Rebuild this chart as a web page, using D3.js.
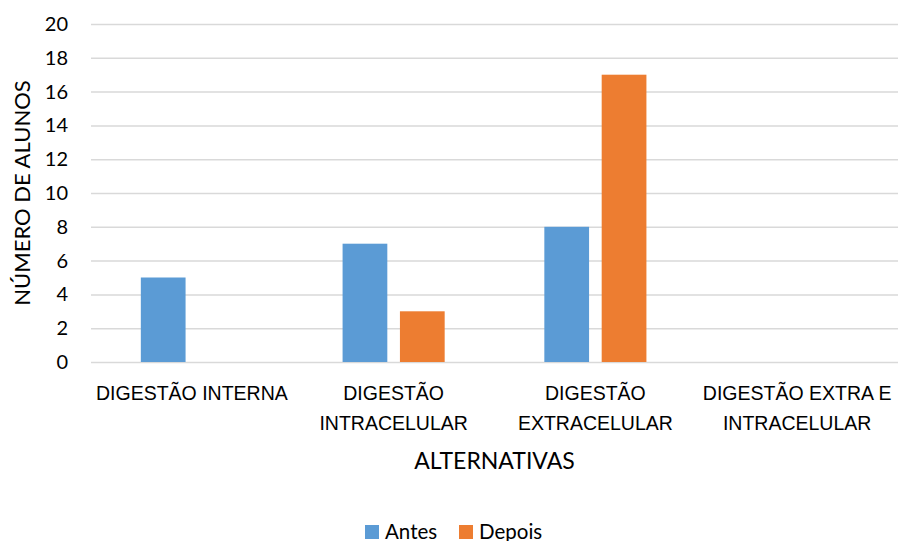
<!DOCTYPE html>
<html>
<head>
<meta charset="utf-8">
<script src="https://cdn.jsdelivr.net/npm/d3@7"></script>
<style>
  html, body { margin: 0; padding: 0; background: #fff; }
  svg { display: block; font-family: Lato, "Open Sans", sans-serif; }
</style>
</head>
<body>
<svg id="chart" width="899" height="541"></svg>
<script>
// Categories (axis labels are wrapped on "\n")
const categories = [
  "DIGESTÃO INTERNA",
  "DIGESTÃO\nINTRACELULAR",
  "DIGESTÃO\nEXTRACELULAR",
  "DIGESTÃO EXTRA E\nINTRACELULAR"
];
const seriesNames = ["Antes", "Depois"];
const antes = [5, 7, 8, 0];
const depois = [0, 3, 17, 0];
const yTicks = [0, 2, 4, 6, 8, 10, 12, 14, 16, 18, 20];
const colors = ["#5B9BD5", "#ED7D31"];

const svg = d3.select("#chart");
const margin = { left: 91, right: 1, top: 24, bottom: 179 };
const W = 899, H = 541;
const plotW = W - margin.left - margin.right;
const plotH = H - margin.top - margin.bottom;

const g = svg.append("g").attr("transform", `translate(${margin.left},${margin.top})`);

const x0 = d3.scaleBand().domain(categories).range([0, plotW]).paddingInner(0.494).paddingOuter(0.247);
const x1 = d3.scaleBand().domain(seriesNames).range([0, x0.bandwidth()]).paddingInner(0.22);
const y = d3.scaleLinear().domain([0, 20]).range([plotH, 0]);

// horizontal gridlines + tick labels
const yAxis = d3.axisLeft(y).tickValues(yTicks).tickSize(-plotW).tickPadding(23);
const ya = g.append("g").call(yAxis);
ya.select(".domain").remove();
ya.selectAll(".tick line").attr("stroke", "#d9d9d9").attr("stroke-width", 1.5);
ya.selectAll(".tick text").attr("fill", "#000").style("font-size", "20px")
  .style("font-family", "Lato, sans-serif");

// bars
const data = categories.map((c, i) => ({ cat: c, vals: [antes[i], depois[i]] }));
const groups = g.selectAll(".grp").data(data).join("g")
  .attr("transform", d => `translate(${x0(d.cat)},0)`);
groups.selectAll("rect").data(d => d.vals.map((v, j) => ({ s: seriesNames[j], v, j })))
  .join("rect")
  .filter(d => d.v > 0)
  .attr("x", d => x1(d.s))
  .attr("width", x1.bandwidth())
  .attr("y", d => y(d.v))
  .attr("height", d => plotH - y(d.v))
  .attr("fill", d => colors[d.j]);

// x axis labels
const xAxis = d3.axisBottom(x0).tickSize(0).tickFormat("");
const xa = g.append("g").attr("transform", `translate(0,${plotH})`).call(xAxis);
xa.select(".domain").remove();
xa.selectAll(".tick").each(function(d) {
  const lines = d.split("\n");
  const t = d3.select(this).append("text")
    .attr("text-anchor", "middle").attr("fill", "#000")
    .style("font-size", "19.5px");
  lines.forEach((ln, k) => {
    t.append("tspan").attr("x", 0).attr("y", 38 + k * 30).text(ln);
  });
});

// axis titles
svg.append("text")
  .attr("transform", `translate(30,${margin.top + plotH / 2}) rotate(-90)`)
  .attr("text-anchor", "middle").attr("fill", "#000")
  .style("font-size", "22px")
  .text("NÚMERO DE ALUNOS");

svg.append("text")
  .attr("x", margin.left + plotW / 2).attr("y", 469)
  .attr("text-anchor", "middle").attr("fill", "#000")
  .style("font-size", "23px")
  .text("ALTERNATIVAS");

// legend
const legend = svg.append("g");
const legendX = [365, 459];
seriesNames.forEach((s, i) => {
  const lg = legend.append("g").attr("transform", `translate(${legendX[i]},525)`);
  lg.append("rect").attr("width", 14).attr("height", 14).attr("fill", colors[i]);
  lg.append("text").attr("x", 20).attr("y", 13.5).attr("fill", "#000")
    .style("font-size", "20.5px").text(s);
});
</script>
</body>
</html>
